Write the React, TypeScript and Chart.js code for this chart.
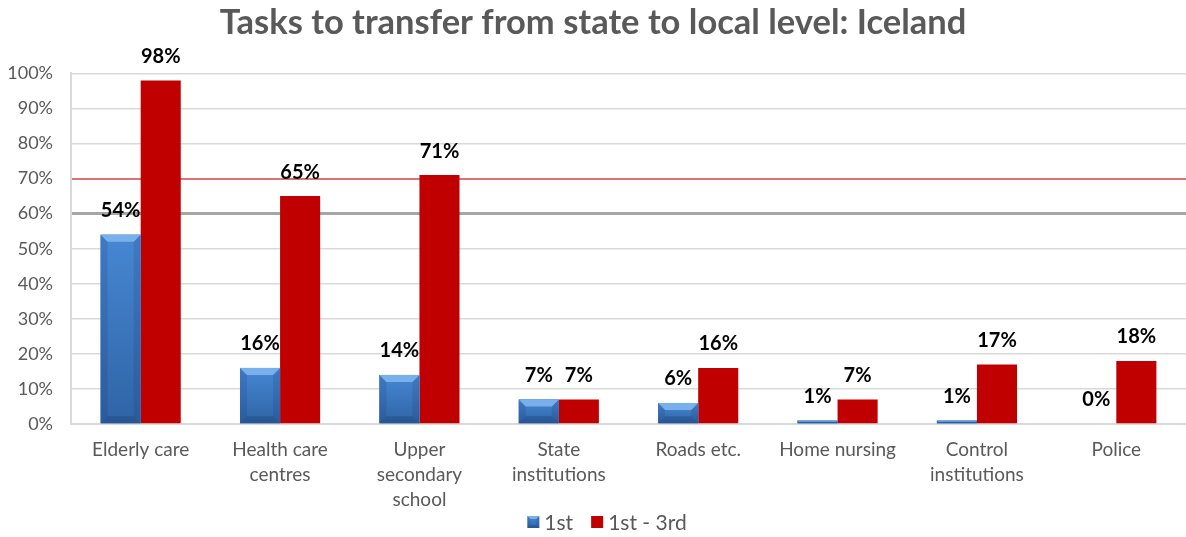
import React, { useEffect, useRef } from "react";
import { Chart, registerables } from "chart.js";

Chart.register(...registerables);

const titleText = "Tasks to transfer from state to local level: Iceland";
const categories: (string | string[])[] = [
  "Elderly care",
  ["Health care", "centres"],
  ["Upper", "secondary", "school"],
  ["State", "institutions"],
  "Roads etc.",
  "Home nursing",
  ["Control", "institutions"],
  "Police",
];
const firstValues = [54, 16, 14, 7, 6, 1, 1, 0];
const firstToThirdValues = [98, 65, 71, 7, 16, 7, 17, 18];
const seriesNames = ["1st", "1st - 3rd"];

const FONT = "Lato, 'Open Sans', sans-serif";
const GRAY = "#595959";
const BLUE = "#3f7dc6";
const RED = "#c00000";

function drawBevelRect(ctx: CanvasRenderingContext2D, left: number, top: number, w: number, h: number, maxB: number) {
  const right = left + w;
  const bottom = top + h;
  const g = ctx.createLinearGradient(0, top, 0, bottom);
  g.addColorStop(0, "#4787d3");
  g.addColorStop(1, "#2f64a6");
  ctx.fillStyle = g;
  ctx.fillRect(left, top, w, h);
  const b = Math.min(maxB, h / 2, w / 2);
  ctx.fillStyle = "rgba(20,50,100,0.15)";
  ctx.beginPath();
  ctx.moveTo(left, top);
  ctx.lineTo(left + b, top + b);
  ctx.lineTo(left + b, bottom - b);
  ctx.lineTo(left, bottom);
  ctx.closePath();
  ctx.fill();
  ctx.beginPath();
  ctx.moveTo(right, top);
  ctx.lineTo(right - b, top + b);
  ctx.lineTo(right - b, bottom - b);
  ctx.lineTo(right, bottom);
  ctx.closePath();
  ctx.fill();
  ctx.fillStyle = "#79b0ec";
  ctx.beginPath();
  ctx.moveTo(left, top);
  ctx.lineTo(right, top);
  ctx.lineTo(right - b, top + b);
  ctx.lineTo(left + b, top + b);
  ctx.closePath();
  ctx.fill();
  ctx.fillStyle = "rgba(20,45,90,0.25)";
  ctx.beginPath();
  ctx.moveTo(left, bottom);
  ctx.lineTo(right, bottom);
  ctx.lineTo(right - b, bottom - b);
  ctx.lineTo(left + b, bottom - b);
  ctx.closePath();
  ctx.fill();
}

const bevelPlugin = {
  id: "bevelBars",
  afterDatasetsDraw(chart: any) {
    const ctx = chart.ctx as CanvasRenderingContext2D;
    const meta = chart.getDatasetMeta(0);
    ctx.save();
    meta.data.forEach((el: any) => {
      const w = el.width;
      const top = Math.min(el.y, el.base);
      const bottom = Math.max(el.y, el.base);
      const h = bottom - top;
      if (h < 0.5) return;
      drawBevelRect(ctx, el.x - w / 2, top, w, h, 7);
    });
    ctx.restore();
  },
};

const labelPlugin = {
  id: "valueLabels",
  afterDatasetsDraw(chart: any) {
    const ctx = chart.ctx as CanvasRenderingContext2D;
    ctx.save();
    ctx.font = `bold 20px ${FONT}`;
    ctx.fillStyle = "#000000";
    ctx.textAlign = "center";
    ctx.textBaseline = "middle";
    chart.data.datasets.forEach((ds: any, di: number) => {
      const meta = chart.getDatasetMeta(di);
      meta.data.forEach((el: any, i: number) => {
        const v = ds.data[i];
        ctx.fillText(v + "%", el.x, el.y - 24);
      });
    });
    ctx.restore();
  },
};

const legendPlugin = {
  id: "customLegend",
  afterDraw(chart: any) {
    const ctx = chart.ctx as CanvasRenderingContext2D;
    ctx.save();
    ctx.font = `21px ${FONT}`;
    ctx.textBaseline = "middle";
    ctx.textAlign = "left";
    const box = 12;
    const gapText = 5;
    const gapItem = 18;
    const widths = seriesNames.map((n) => ctx.measureText(n).width);
    const total = widths.reduce((a, w) => a + box + gapText + w, 0) + gapItem * (seriesNames.length - 1);
    const cy = chart.height - 15;
    let x = 607 - total / 2;
    seriesNames.forEach((n, i) => {
      if (i === 0) drawBevelRect(ctx, x, cy - box / 2, box, box, 3);
      else {
        ctx.fillStyle = RED;
        ctx.fillRect(x, cy - box / 2, box, box);
      }
      ctx.fillStyle = GRAY;
      ctx.fillText(n, x + box + gapText, cy + 1);
      x += box + gapText + widths[i] + gapItem;
    });
    ctx.restore();
  },
};

export default function App() {
  const ref = useRef<HTMLCanvasElement | null>(null);
  useEffect(() => {
    document.body.style.margin = "0";
    if (!ref.current) return;
    const chart = new Chart(ref.current, {
      type: "bar",
      data: {
        labels: categories,
        datasets: [
          {
            label: seriesNames[0],
            data: firstValues,
            backgroundColor: BLUE,
            borderWidth: 0,
          },
          {
            label: seriesNames[1],
            data: firstToThirdValues,
            backgroundColor: RED,
            borderWidth: 0,
          },
        ],
      },
      options: {
        responsive: false,
        animation: false,
        layout: { padding: { left: 0, right: 0, top: 0, bottom: 25 } },
        datasets: {
          bar: { barPercentage: 1, categoryPercentage: 0.575 },
        },
        scales: {
          x: {
            grid: { display: false },
            border: { display: true, color: "#d9d9d9", width: 2 },
            ticks: {
              color: GRAY,
              font: { family: FONT, size: 19, lineHeight: 1.32 },
              maxRotation: 0,
              autoSkip: false,
              padding: 5,
            },
            afterFit(scale: any) {
              scale.height = 88;
            },
          },
          y: {
            min: 0,
            max: 100,
            ticks: {
              stepSize: 10,
              color: GRAY,
              font: { family: FONT, size: 18 },
              padding: 18,
              callback: (v: any) => v + "%",
            },
            border: { display: true, color: "#d9d9d9", width: 2 },
            grid: {
              drawTicks: false,
              color: (c: any) => {
                const v = c.tick && c.tick.value;
                if (v === 70) return "#dd7474";
                if (v === 60) return "#a6a6a6";
                return "#d9d9d9";
              },
              lineWidth: (c: any) => {
                const v = c.tick && c.tick.value;
                if (v === 60) return 3;
                if (v === 70) return 2;
                return 1.5;
              },
            },
            afterFit(scale: any) {
              scale.width = 71;
            },
          },
        },
        plugins: {
          title: {
            display: true,
            text: titleText,
            color: GRAY,
            font: { family: FONT, size: 34.5, weight: "bold", lineHeight: 1.2 },
            padding: { top: 2, bottom: 30 },
          },
          legend: { display: false },
          tooltip: { enabled: false },
        },
      },
      plugins: [bevelPlugin, labelPlugin, legendPlugin],
    } as any);
    return () => chart.destroy();
  }, []);
  return (
    <div style={{ width: 1186, height: 537 }}>
      <canvas ref={ref} width={1186} height={537} style={{ display: "block" }} />
    </div>
  );
}
